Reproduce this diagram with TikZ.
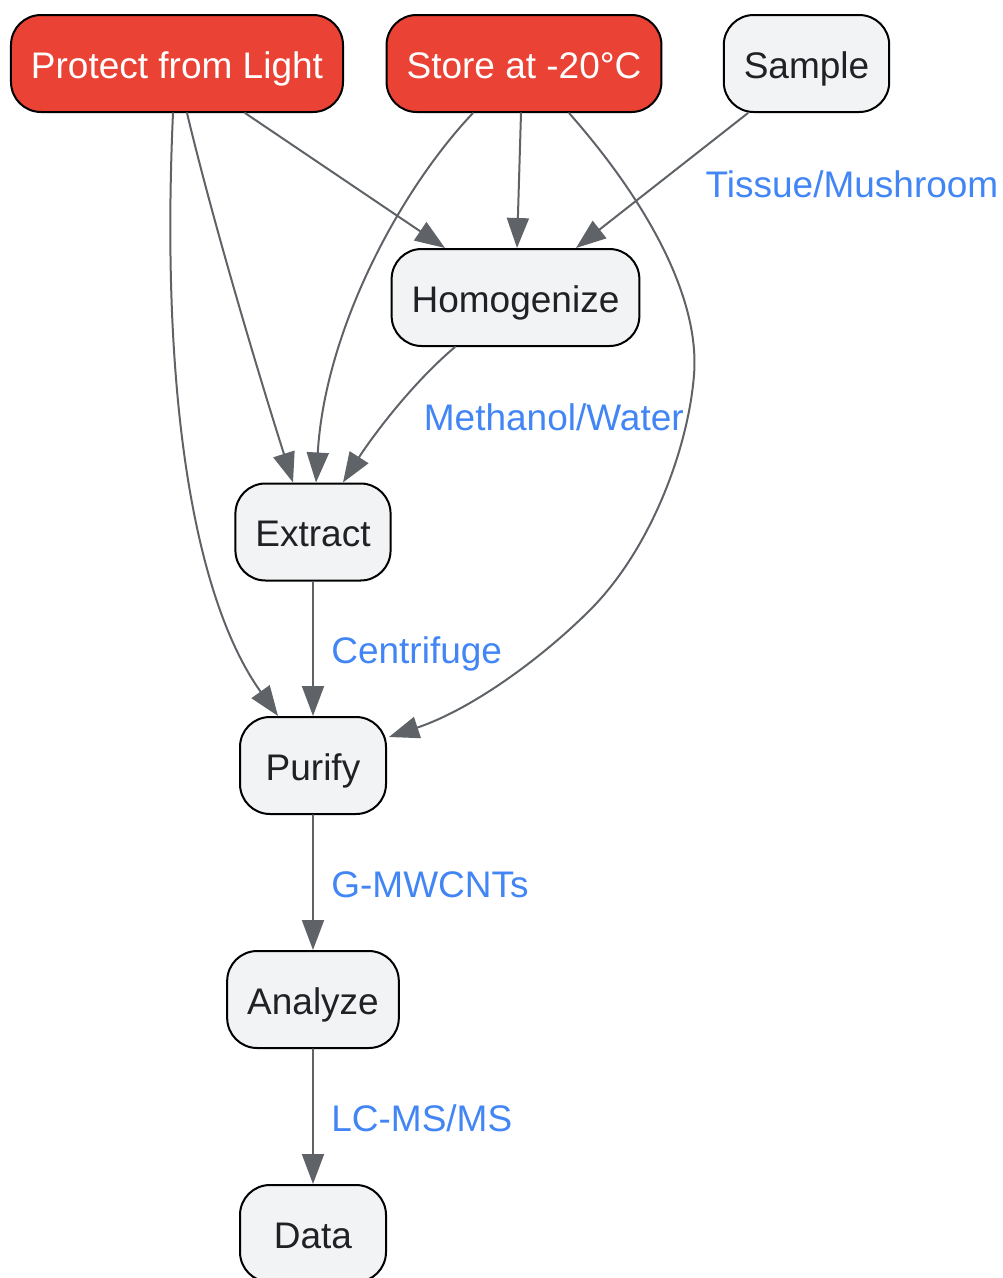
\documentclass[tikz,border=0pt]{standalone}
\usepackage{fontspec}
\setmainfont{Liberation Sans}
\usetikzlibrary{arrows.meta,calc}
\definecolor{warnred}{HTML}{EA4335}
\definecolor{boxgray}{HTML}{F1F3F4}
\definecolor{inkdark}{HTML}{202124}
\definecolor{edgegray}{HTML}{5F6368}
\definecolor{lblblue}{HTML}{4285F4}
\begin{document}
\begin{tikzpicture}[line join = round, line cap = round, x = 0.75pt, y = -0.75pt]
			\pgfmathsetmacro\rowtop{63.5}
			\pgfmathsetmacro\colmid{313}
			\tikzset{stepnode/.style={draw = black, line width = 1.5pt, fill = boxgray, text = inkdark, rounded corners = 22.5pt,
					minimum width = 109.5pt, minimum height = 72.75pt, inner xsep = 15pt, text height = 22.2pt, text depth = 0pt,
					font = \fontsize{27.75}{33}\selectfont}}
			\tikzset{warnnode/.style={stepnode, fill = warnred, text = white}}
			\tikzset{flow/.style={draw = edgegray, line width = 1.5pt, -{Triangle[length = 22.5pt, width = 16.5pt]}}}
			\tikzset{lbl/.style={text = lblblue, inner sep = 0pt, text height = 22.2pt, text depth = 0pt,
					font = \fontsize{27.75}{33}\selectfont}}
			\useasboundingbox (0,0) rectangle (1003,1278);
			\node[warnnode] (prot) at (177,\rowtop) {Protect from Light};
			\node[warnnode] (sto) at (524,\rowtop) {Store at -20°C};
			\node[stepnode] (sam) at (806.5,\rowtop) {Sample};
			\node[stepnode] (hom) at (515.5,297.5) {Homogenize};
			\node[stepnode] (ext) at (\colmid,532) {Extract};
			\node[stepnode] (pur) at (\colmid,765.5) {Purify};
			\node[stepnode] (ana) at (\colmid,999.5) {Analyze};
			\node[stepnode] (dat) at (\colmid,1233.5) {Data};
			\draw[flow] ($(prot.south)+(68,0)$) -- ($(hom.north)+(-70.5,0)$);
			\draw[flow] ($(prot.south)+(10,0)$) .. controls (215,230) and (262,385) .. ($(ext.north)+(-20,0)$);
			\draw[flow] ($(prot.south)+(-4,0)$) .. controls (160,400) and (195,600) .. ($(pur.north)+(-35,0)$);
			\draw[flow] ($(sto.south)+(-3,0)$) -- ($(hom.north)+(1.5,0)$);
			\draw[flow] ($(sto.south)+(-51,0)$) .. controls (400,190) and (325,330) .. ($(ext.north)+(3,0)$);
			\draw[flow] ($(sto.south)+(45,0)$) .. controls (650,205) and (700,300) .. (694,375)
				.. controls (688,450) and (650,550) .. (590,610) .. controls (540,660) and (470,710) .. ($(pur.east)+(2,-28.5)$);
			\draw[flow] ($(sam.south)+(-58.5,0)$) -- node[lbl, anchor = west, xshift = 32pt, yshift = -1.5pt] {Tissue/Mushroom} ($(hom.north)+(60.5,0)$);
			\draw[flow] ($(hom.south)+(-60.5,0)$) .. controls (410,385) and (370,440) .. node[lbl, anchor = west, xshift = 23pt, yshift = -2pt] {Methanol/Water} ($(ext.north)+(30,0)$);
			\draw[flow] (ext) -- node[lbl, anchor = west, xshift = 13pt] {Centrifuge} (pur);
			\draw[flow] (pur) -- node[lbl, anchor = west, xshift = 13pt] {G-MWCNTs} (ana);
			\draw[flow] (ana) -- node[lbl, anchor = west, xshift = 13pt] {LC-MS/MS} (dat);
\end{tikzpicture}
\end{document}
